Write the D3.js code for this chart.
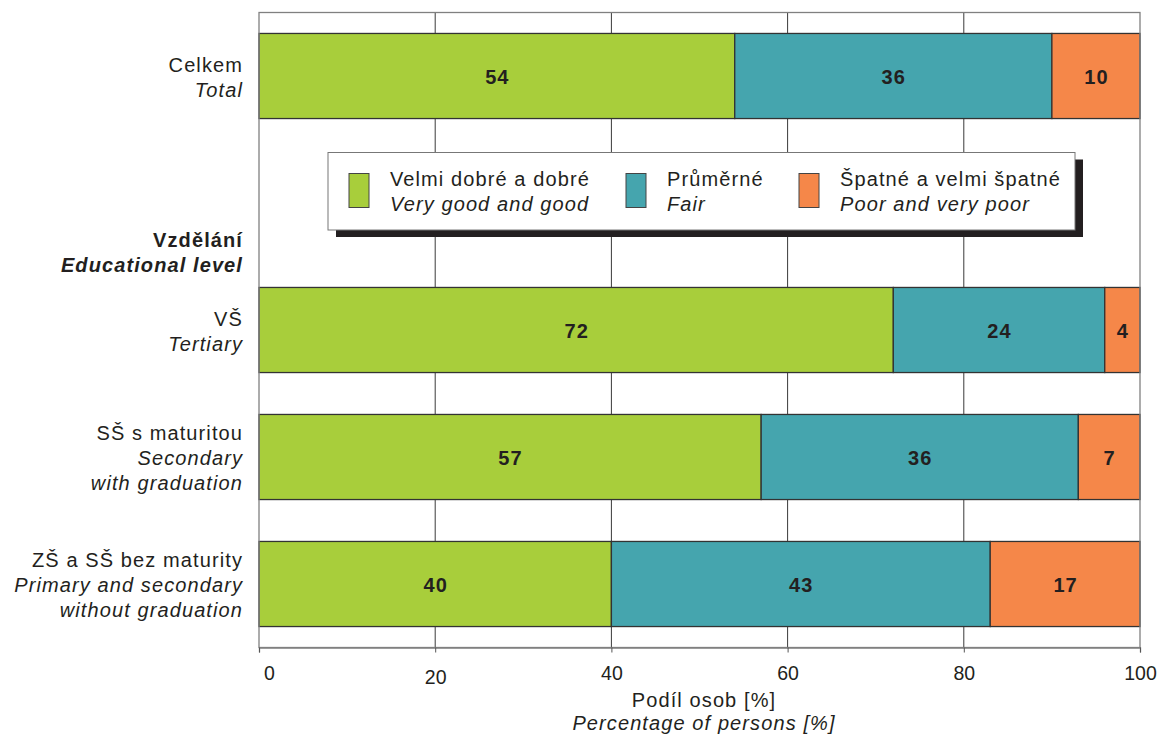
<!DOCTYPE html>
<html>
<head>
<meta charset="utf-8">
<script src="https://cdn.jsdelivr.net/npm/d3@7"></script>
<style>
  html, body { margin: 0; padding: 0; background: #fff; }
  svg { display: block; font-family: "Liberation Sans", Arial, sans-serif; }
  .lbl { font-size: 20px; letter-spacing: 1.1px; }
</style>
</head>
<body>
<svg id="chart" width="1160" height="735"></svg>
<script>
// Rows of the chart, top to bottom (the "educ" row is a group heading without a bar)
const rowKeys   = ["total", "educ", "tertiary", "secGrad", "primSec"];
const rowLabelsCz = [["Celkem"], ["Vzdělání"], ["VŠ"], ["SŠ s maturitou"], ["ZŠ a SŠ bez maturity"]];
const rowLabelsEn = [["Total"], ["Educational level"], ["Tertiary"], ["Secondary", "with graduation"], ["Primary and secondary", "without graduation"]];

// Self-assessed health, share of persons [%]
const veryGoodGood = [54, null, 72, 57, 40];
const fair         = [36, null, 24, 36, 43];
const poorVeryPoor = [10, null, 4, 7, 17];

const seriesKeys = ["good", "fair", "poor"];
const seriesCz = ["Velmi dobré a dobré", "Průměrné", "Špatné a velmi špatné"];
const seriesEn = ["Very good and good", "Fair", "Poor and very poor"];
const seriesColors = ["#a8ce3b", "#45a5ae", "#f58749"];

const xTicks = [0, 20, 40, 60, 80, 100];
const axisTitleCz = "Podíl osob [%]";
const axisTitleEn = "Percentage of persons [%]";

const svg = d3.select("#chart");
const margin = { left: 259, right: 20, top: 12.5, bottom: 87.5 };
const W = 1160, H = 735;
const x0 = margin.left, x1 = W - margin.right, y0 = margin.top, y1 = H - margin.bottom;

const x = d3.scaleLinear().domain([0, 100]).range([x0, x1]);
const y = d3.scaleBand().domain(rowKeys).range([y0, y1]).paddingInner(0.33).paddingOuter(0.165);

const ink = "#231f20";
const frameColor = "#808080";

// vertical gridlines
svg.append("g").selectAll("line")
  .data(xTicks.filter(t => t > 0 && t < 100))
  .join("line")
  .attr("x1", d => x(d)).attr("x2", d => x(d))
  .attr("y1", y0).attr("y2", y1)
  .attr("stroke", "#3a3a3a").attr("stroke-width", 1);

// stacked bars
const table = rowKeys.map((k, i) => ({ key: k, good: veryGoodGood[i], fair: fair[i], poor: poorVeryPoor[i] }))
  .filter(d => d.good != null);
const stacked = d3.stack().keys(seriesKeys)(table);

const barG = svg.append("g");
stacked.forEach((layer, si) => {
  const g = barG.append("g");
  g.selectAll("rect")
    .data(layer)
    .join("rect")
    .attr("x", d => x(d[0]))
    .attr("width", d => x(d[1]) - x(d[0]))
    .attr("y", d => y(d.data.key))
    .attr("height", y.bandwidth())
    .attr("fill", seriesColors[si])
    .attr("stroke", "#333")
    .attr("stroke-width", 1.3);
  g.selectAll("text")
    .data(layer)
    .join("text")
    .attr("class", "lbl")
    .attr("x", d => (x(d[0]) + x(d[1])) / 2 + 0.5)
    .attr("y", d => y(d.data.key) + y.bandwidth() / 2 + 8)
    .attr("text-anchor", "middle")
    .attr("font-weight", "bold")
    .attr("fill", ink)
    .text(d => d[1] - d[0]);
});

// frame
svg.append("rect")
  .attr("x", x0).attr("y", y0).attr("width", x1 - x0).attr("height", y1 - y0)
  .attr("fill", "none").attr("stroke", frameColor).attr("stroke-width", 1.3);

// bottom axis
const axis = svg.append("g")
  .attr("transform", `translate(0,${y1})`)
  .call(d3.axisBottom(x).tickValues(xTicks).tickSize(5).tickPadding(0).tickFormat(d3.format("d")));
axis.select(".domain").attr("stroke", frameColor).attr("stroke-width", 1.3);
axis.selectAll(".tick line").attr("stroke", "#555").attr("stroke-width", 1);
axis.selectAll(".tick text")
  .attr("font-size", 19.5)
  .attr("font-family", "\"Liberation Sans\", Arial, sans-serif")
  .attr("fill", ink)
  .attr("dx", d => d === 0 ? 10 : 0)
  .attr("y", d => d === 20 ? 36 : 32)
  .attr("dy", 0);

// axis title
const axisMid = 704;
svg.append("text").attr("class", "lbl").attr("x", axisMid).attr("y", 706.5).attr("text-anchor", "middle")
  .attr("fill", ink).text(axisTitleCz);
svg.append("text").attr("class", "lbl").attr("x", axisMid).attr("y", 730).attr("text-anchor", "middle")
  .attr("font-style", "italic").attr("fill", ink).text(axisTitleEn);

// row labels
const labelX = 243;
const lineH = 25;
rowKeys.forEach((k, i) => {
  const isHeading = k === "educ";
  const lines = rowLabelsCz[i].map(t => ({ t, it: false })).concat(rowLabelsEn[i].map(t => ({ t, it: true })));
  const cy = y(k) + y.bandwidth() / 2 + (isHeading ? 48 : 0);
  const startY = cy - (lines.length - 1) * lineH / 2 + 8;
  const txt = svg.append("text").attr("class", "lbl").attr("text-anchor", "end").attr("fill", ink);
  lines.forEach((l, j) => {
    txt.append("tspan")
      .attr("x", labelX).attr("y", startY + j * lineH)
      .attr("font-style", l.it ? "italic" : "normal")
      .attr("font-weight", isHeading ? "bold" : "normal")
      .text(l.t);
  });
});

// legend with drop shadow
const lg = { x: 328, y: 152.5, w: 747, h: 77.5 };
svg.append("rect").attr("x", lg.x + 8).attr("y", lg.y + 7).attr("width", lg.w).attr("height", lg.h).attr("fill", ink);
svg.append("rect").attr("x", lg.x).attr("y", lg.y).attr("width", lg.w).attr("height", lg.h)
  .attr("fill", "#fff").attr("stroke", "#777").attr("stroke-width", 1);
const legendItemX = [349, 626, 799];
seriesKeys.forEach((k, i) => {
  const g = svg.append("g").attr("transform", `translate(${legendItemX[i]},0)`);
  g.append("rect").attr("x", 0).attr("y", 173.5).attr("width", 20).attr("height", 34)
    .attr("fill", seriesColors[i]).attr("stroke", "#444").attr("stroke-width", 1);
  g.append("text").attr("class", "lbl").attr("x", 41).attr("y", 185.5).attr("fill", ink).text(seriesCz[i]);
  g.append("text").attr("class", "lbl").attr("x", 41).attr("y", 211).attr("font-style", "italic").attr("fill", ink).text(seriesEn[i]);
});
</script>
</body>
</html>
